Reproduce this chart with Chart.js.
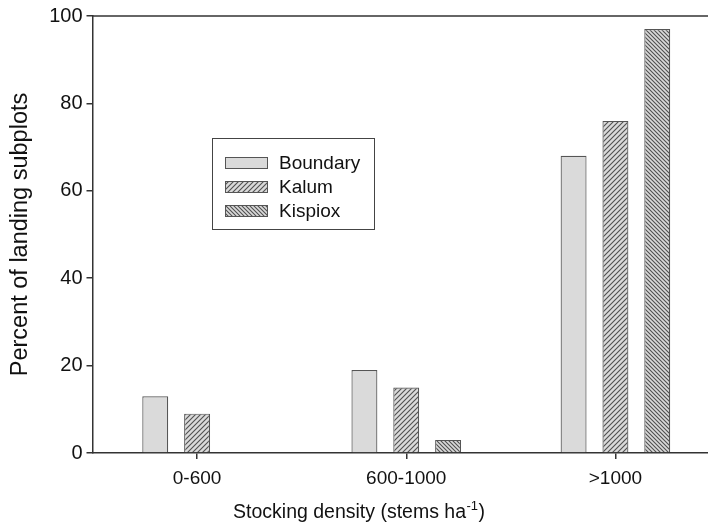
<!DOCTYPE html>
<html>
<head>
<meta charset="utf-8">
<script src="https://cdn.jsdelivr.net/npm/chart.js@4.4.0/dist/chart.umd.min.js"></script>
<style>
html,body{margin:0;padding:0;background:#fff;overflow:hidden;width:708px;height:528px;}
#wrap{position:absolute;left:0;top:0;width:740px;height:528px;}
</style>
</head>
<body>
<div id="wrap"><canvas id="c" width="740" height="528"></canvas></div>
<script>
const categories = ['0-600', '600-1000', '>1000'];
const seriesNames = ['Boundary', 'Kalum', 'Kispiox'];
const boundary = [13, 19, 68];
const kalum = [9, 15, 76];
const kispiox = [0, 3, 97];
const yTicks = [0, 20, 40, 60, 80, 100];
const xTitleParts = ['Stocking density (stems ha', '-1', ')'];

const canvas = document.getElementById('c');
const ctx = canvas.getContext('2d');
const FONT = 'Liberation Sans, Arial, sans-serif';

function hatch(dir, size) {
  const c = document.createElement('canvas');
  c.width = c.height = size;
  const x = c.getContext('2d');
  x.fillStyle = '#dadada';
  x.fillRect(0, 0, size, size);
  x.strokeStyle = '#505050';
  x.lineWidth = 1.1;
  x.beginPath();
  if (dir === '/') {
    x.moveTo(0, size); x.lineTo(size, 0);
    x.moveTo(-2, 2); x.lineTo(2, -2);
    x.moveTo(size - 2, size + 2); x.lineTo(size + 2, size - 2);
  } else {
    x.moveTo(0, 0); x.lineTo(size, size);
    x.moveTo(size - 2, -2); x.lineTo(size + 2, 2);
    x.moveTo(-2, size - 2); x.lineTo(2, size + 2);
  }
  x.stroke();
  return ctx.createPattern(c, 'repeat');
}

const fills = ['#dadada', hatch('/', 5), hatch('\\', 4)];
const values = [boundary, kalum, kispiox];

const frameAndLegend = {
  id: 'frameAndLegend',
  afterDraw(chart) {
    const g = chart.ctx;
    const a = chart.chartArea;
    g.save();
    g.strokeStyle = '#333';
    g.lineWidth = 1.5;
    g.beginPath();
    g.moveTo(a.left, a.top);
    g.lineTo(a.right, a.top);
    g.stroke();
    const xs = chart.scales.x, ys = chart.scales.y;
    const bx = Math.round(xs.left + (xs.right - xs.left) * 0.1905);
    const by = Math.round(ys.getPixelForValue(72));
    const bw = 162, bh = 91;
    g.strokeStyle = '#444';
    g.lineWidth = 1;
    g.strokeRect(bx + 0.5, by + 0.5, bw, bh);
    g.font = '19px ' + FONT;
    g.textBaseline = 'middle';
    chart.data.datasets.forEach((ds, i) => {
      const cy = by + 25 + i * 24;
      g.fillStyle = ds.backgroundColor;
      g.fillRect(bx + 13, cy - 6, 43, 12);
      g.strokeStyle = '#555';
      g.lineWidth = 1;
      g.strokeRect(bx + 13.5, cy - 5.5, 42, 11);
      g.fillStyle = '#111';
      g.fillText(ds.label, bx + 67, cy + 1);
    });
    // x-axis title with superscript, centred as in the reference figure
    const big = '19.5px ' + FONT, small = '13px ' + FONT;
    g.font = big; const w0 = g.measureText(xTitleParts[0]).width;
    const w2 = g.measureText(xTitleParts[2]).width;
    g.font = small; const w1 = g.measureText(xTitleParts[1]).width;
    const total = w0 + w1 + w2;
    const cx = xs.left + (xs.right - xs.left) * 0.424;
    let tx = cx - total / 2;
    const ty = xs.bottom - 10;
    g.fillStyle = '#111';
    g.textBaseline = 'alphabetic';
    g.textAlign = 'left';
    g.font = big; g.fillText(xTitleParts[0], tx, ty); tx += w0;
    g.font = small; g.fillText(xTitleParts[1], tx + 0.5, ty - 8); tx += w1 + 1;
    g.font = big; g.fillText(xTitleParts[2], tx, ty);
    g.restore();
  }
};

new Chart(canvas, {
  type: 'bar',
  data: {
    labels: categories,
    datasets: seriesNames.map((n, i) => ({
      label: n,
      data: values[i],
      backgroundColor: fills[i],
      borderColor: '#555',
      borderWidth: 1.2,
      borderSkipped: 'bottom',
      categoryPercentage: 0.6,
      barPercentage: 0.62
    }))
  },
  options: {
    responsive: false,
    animation: false,
    devicePixelRatio: 1,
    layout: { padding: { left: 0, right: 20, top: 15, bottom: 0 } },
    plugins: { legend: { display: false }, tooltip: { enabled: false } },
    scales: {
      x: {
        grid: { display: true, offset: false, drawOnChartArea: false, drawTicks: true, tickLength: 6, color: '#333', lineWidth: 1.5 },
        border: { display: true, color: '#333', width: 1.5 },
        ticks: { color: '#111', font: { size: 19, family: FONT }, padding: 8, maxRotation: 0 },
        title: { display: false },
        afterFit(s) { s.height = 75; }
      },
      y: {
        min: 0, max: 100,
        afterBuildTicks(s) { s.ticks = yTicks.map(v => ({ value: v })); },
        grid: { display: true, drawOnChartArea: false, drawTicks: true, tickLength: 6, color: '#333', lineWidth: 1.5 },
        border: { display: true, color: '#333', width: 1.5 },
        ticks: { color: '#111', font: { size: 20, family: FONT }, padding: 4 },
        title: { display: true, text: 'Percent of landing subplots', color: '#111', font: { size: 23.5, family: FONT }, padding: { top: 6, bottom: 0 } },
        afterFit(s) { s.width = 92.5; }
      }
    }
  },
  plugins: [frameAndLegend]
});
</script>
</body>
</html>
